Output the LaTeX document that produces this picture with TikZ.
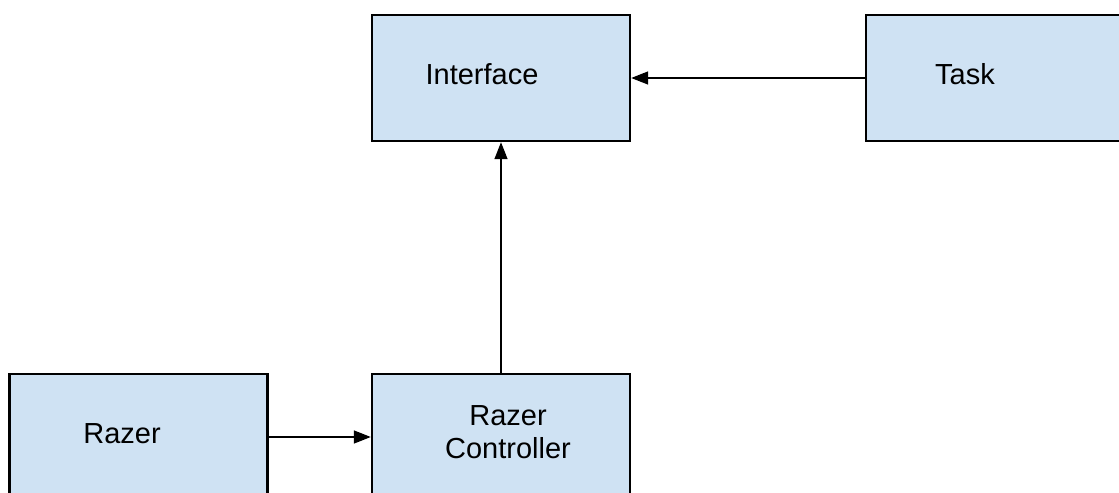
\documentclass[tikz,border=0pt]{standalone}
\usepackage{fontspec}
\setmainfont{Liberation Sans}
\usetikzlibrary{arrows.meta}
\definecolor{boxblue}{HTML}{CFE2F3}

\begin{document}
\begin{tikzpicture}[x=0.02cm, y=-0.02cm,
    block/.style={draw, fill=boxblue, line width=1.4pt,
        minimum width=5.16cm, minimum height=2.52cm},
    link/.style={line width=0.9pt, -{Triangle[length=0.34cm, width=0.26cm]}},
    font=\fontsize{16.5}{18.8}\selectfont]

    \clip (0,0) rectangle (1119,493);

    % the four blocks
    \node[block, label={[xshift=-0.38cm, yshift=0.08cm]center:Interface}] (iface) at (501,78) {};
    \node[block, label={[xshift=-0.6cm, yshift=0.08cm]center:Task}] (task) at (995,78) {};
    \node[block, label={[xshift=-0.33cm, yshift=0.06cm]center:Razer}] (razer) at (138.5,437) {};
    \node[block, label={[xshift=0.14cm, yshift=0.1cm, align=center]center:Razer\\Controller}] (ctrl) at (501,437) {};

    % connections
    \draw[link] (task) -- (iface);
    \draw[link] (ctrl) -- (iface);
    \draw[link] (razer) -- (ctrl);
\end{tikzpicture}
\end{document}
